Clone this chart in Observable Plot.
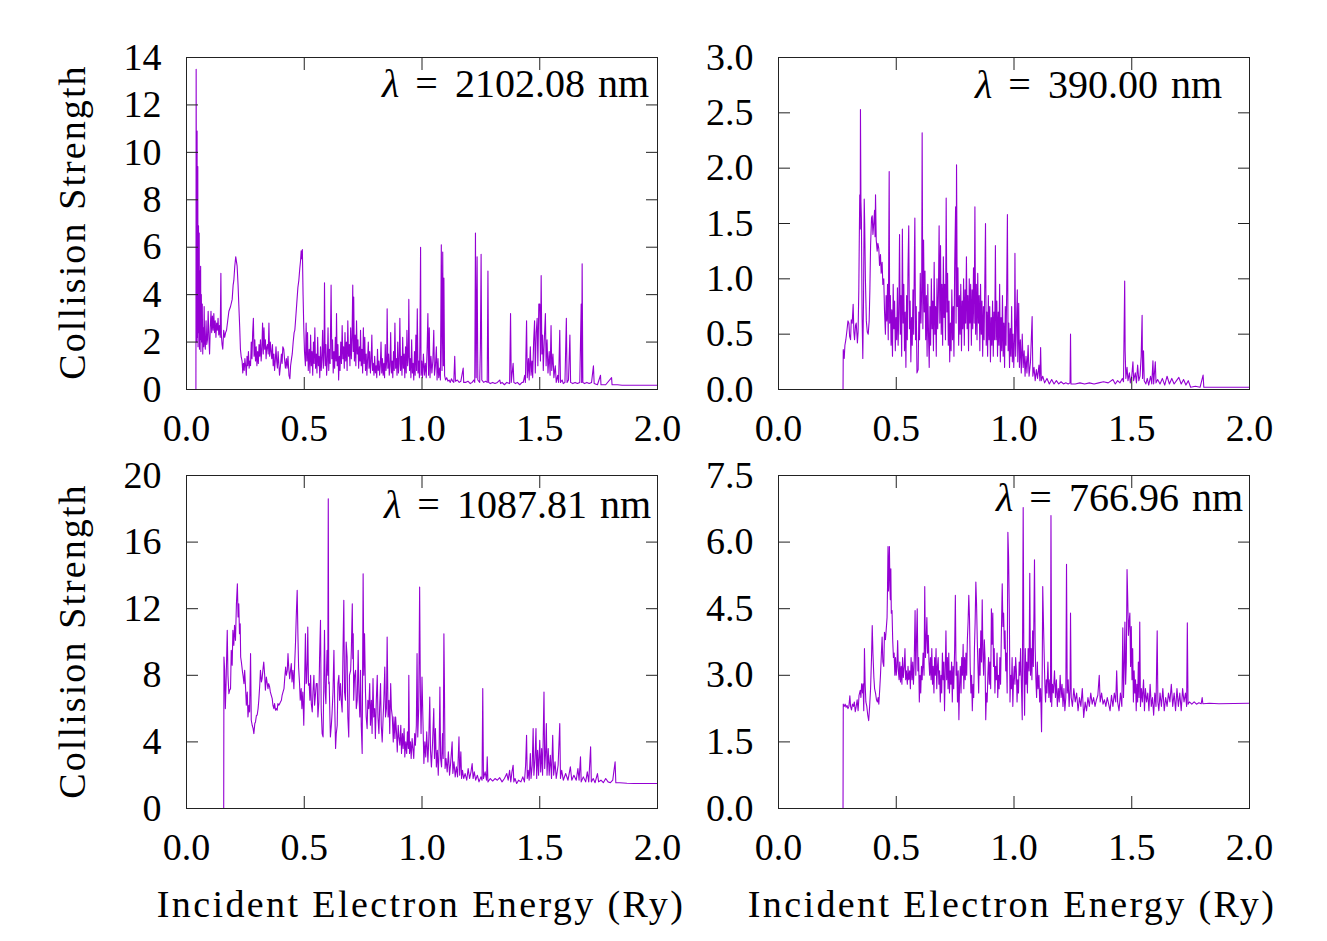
<!DOCTYPE html>
<html><head><meta charset="utf-8">
<script src="https://cdn.jsdelivr.net/npm/d3@7"></script>
<script src="https://cdn.jsdelivr.net/npm/@observablehq/plot@0.6"></script>
<style>
body{margin:0;background:#fff;}
#fig{position:relative;width:1327px;height:941px;background:#fff;overflow:hidden;font-family:"Liberation Serif",serif;color:#000;}
.panel{position:absolute;}
.lab{position:absolute;font-size:40px;line-height:38px;white-space:nowrap;}
.lab .eq{margin:0 17px 0 16px;}
.lab .u{margin-left:13px;}
.ylab{position:absolute;font-size:38px;line-height:38px;white-space:nowrap;letter-spacing:2.1px;transform:translate(-50%,-50%) rotate(-90deg);}
.xlab{position:absolute;font-size:38px;line-height:38px;white-space:nowrap;letter-spacing:2.4px;transform:translateX(-50%);}
</style>
</head><body><div id="fig"></div>
<script>
// ---- data: [energy (Ry), collision strength] ----
const xTicks = [0, 0.5, 1.0, 1.5, 2.0];
const yTicksTL = [0,2,4,6,8,10,12,14];
const yTicksTR = [0,0.5,1.0,1.5,2.0,2.5,3.0];
const yTicksBL = [0,4,8,12,16,20];
const yTicksBR = [0,1.5,3.0,4.5,6.0,7.5];
const labels = ["2102.08", "390.00", "1087.81", "766.96"];

const dataTL = [[0,0],[0.040,0],[0.041,13.5],[0.043,2.0],[0.045,10.9],[0.046,2.2],[0.048,9.4],[0.049,1.8],[0.051,6.9],[0.052,2.4],[0.054,6.6],[0.055,1.7],[0.057,5.0],[0.058,2.1],[0.060,5.2],[0.061,1.6],[0.063,4.0],[0.065,2.0],[0.067,3.6],[0.069,1.5],[0.071,2.6],[0.073,1.8],[0.075,3.5],[0.077,2.0],[0.080,1.7],[0.083,2.9],[0.086,1.9],[0.089,2.1],[0.092,3.3],[0.095,2.2],[0.098,1.5],[0.101,2.6],[0.104,3.3],[0.107,2.4],[0.110,3.1],[0.113,2.5],[0.116,3.2],[0.119,2.4],[0.122,2.9],[0.125,2.2],[0.128,2.8],[0.131,2.5],[0.134,3.0],[0.137,2.3],[0.140,2.7],[0.143,2.2],[0.146,4.9],[0.148,2.3],[0.151,1.9],[0.154,1.7],[0.158,2.5],[0.162,2.2],[0.166,2.4],[0.170,2.5],[0.175,2.9],[0.180,3.3],[0.187,3.5],[0.194,3.8],[0.198,4.4],[0.201,4.6],[0.205,5.2],[0.209,5.6],[0.212,5.4],[0.215,5.2],[0.219,4.4],[0.222,3.6],[0.226,2.6],[0.229,1.7],[0.232,1.4],[0.236,1.2],[0.239,0.7],[0.242,1.1],[0.245,0.8],[0.248,1.3],[0.251,1.0],[0.254,0.6],[0.257,1.4],[0.260,1.0],[0.263,1.6],[0.266,0.9],[0.269,1.2],[0.272,1.0],[0.275,2.0],[0.278,1.3],[0.281,2.4],[0.284,3.0],[0.287,1.4],[0.290,2.1],[0.293,1.2],[0.296,1.8],[0.299,1.0],[0.302,1.6],[0.305,1.1],[0.308,1.9],[0.311,1.4],[0.314,2.1],[0.317,1.2],[0.320,1.7],[0.323,2.8],[0.326,1.5],[0.329,2.6],[0.332,1.7],[0.335,2.1],[0.338,1.3],[0.341,1.8],[0.344,1.9],[0.347,1.5],[0.350,2.8],[0.353,1.4],[0.356,2.0],[0.359,1.6],[0.362,1.3],[0.365,1.9],[0.368,1.0],[0.371,1.5],[0.374,0.8],[0.377,1.2],[0.380,1.8],[0.383,1.2],[0.386,0.9],[0.389,1.6],[0.392,1.1],[0.395,0.6],[0.399,1.0],[0.403,1.5],[0.406,1.1],[0.409,1.8],[0.413,1.7],[0.417,1.2],[0.420,0.9],[0.424,1.3],[0.427,0.9],[0.431,1.4],[0.435,0.6],[0.439,0.45],[0.442,1.0],[0.446,1.3],[0.449,1.5],[0.453,2.0],[0.457,2.4],[0.460,2.5],[0.463,2.9],[0.468,3.6],[0.473,4.3],[0.477,4.6],[0.481,5.1],[0.484,5.4],[0.487,5.85],[0.490,5.5],[0.492,5.9],[0.495,4.0],[0.498,2.6],[0.501,1.6],[0.505,1.0],[0.508,2.8],[0.511,1.2],[0.514,2.4],[0.517,0.8],[0.521,1.7],[0.524,0.7],[0.527,2.3],[0.530,1.0],[0.533,1.6],[0.536,0.6],[0.539,2.0],[0.542,1.1],[0.545,2.6],[0.548,0.9],[0.551,1.5],[0.554,0.7],[0.557,2.2],[0.560,1.0],[0.563,1.4],[0.566,0.5],[0.569,1.8],[0.572,0.8],[0.575,1.3],[0.578,2.5],[0.581,0.9],[0.584,1.6],[0.586,4.5],[0.589,1.0],[0.592,1.9],[0.595,0.6],[0.598,1.2],[0.601,2.6],[0.604,0.8],[0.607,1.7],[0.610,1.1],[0.614,4.4],[0.617,1.3],[0.620,2.1],[0.623,0.7],[0.626,1.6],[0.629,0.9],[0.632,2.2],[0.635,1.2],[0.637,3.2],[0.640,1.0],[0.643,1.9],[0.646,0.4],[0.649,1.4],[0.652,0.8],[0.655,2.0],[0.658,1.1],[0.661,2.7],[0.664,1.3],[0.667,1.8],[0.670,0.9],[0.673,2.4],[0.676,1.2],[0.679,2.0],[0.682,0.8],[0.685,2.9],[0.688,1.4],[0.691,1.9],[0.694,1.0],[0.697,2.6],[0.700,1.3],[0.703,2.2],[0.706,4.4],[0.708,1.6],[0.710,3.9],[0.713,1.2],[0.716,2.3],[0.719,1.0],[0.722,2.9],[0.725,1.5],[0.728,2.1],[0.731,0.9],[0.734,1.8],[0.737,1.2],[0.739,2.5],[0.742,1.0],[0.745,1.7],[0.748,0.7],[0.751,2.6],[0.754,1.1],[0.757,2.2],[0.760,0.8],[0.763,1.5],[0.766,0.6],[0.769,1.3],[0.772,2.0],[0.775,0.9],[0.778,1.6],[0.781,0.7],[0.784,1.2],[0.787,2.3],[0.790,0.8],[0.793,1.1],[0.796,0.6],[0.799,1.4],[0.802,0.7],[0.805,1.0],[0.808,0.5],[0.811,1.7],[0.814,0.8],[0.817,1.2],[0.820,0.6],[0.823,1.0],[0.826,2.0],[0.829,0.7],[0.832,1.3],[0.835,0.6],[0.838,1.1],[0.841,0.5],[0.844,1.9],[0.847,0.8],[0.850,1.2],[0.852,3.4],[0.855,0.9],[0.858,1.5],[0.861,0.6],[0.864,1.0],[0.867,2.4],[0.870,0.7],[0.873,1.2],[0.876,0.5],[0.879,1.6],[0.882,0.8],[0.885,2.8],[0.888,0.9],[0.891,1.3],[0.894,0.6],[0.897,2.0],[0.900,0.7],[0.903,1.1],[0.906,3.0],[0.909,0.8],[0.912,1.4],[0.915,0.6],[0.918,2.2],[0.921,0.9],[0.924,1.5],[0.927,0.5],[0.930,1.8],[0.933,0.7],[0.936,2.5],[0.939,1.0],[0.942,1.4],[0.944,3.8],[0.947,0.8],[0.950,1.3],[0.953,0.5],[0.956,2.1],[0.959,0.7],[0.962,1.1],[0.965,0.4],[0.968,1.6],[0.971,0.6],[0.974,2.3],[0.977,0.8],[0.980,3.4],[0.983,0.7],[0.986,1.2],[0.989,0.5],[0.991,1.9],[0.994,6.0],[0.996,0.6],[0.999,1.2],[1.002,0.5],[1.006,1.5],[1.010,0.6],[1.014,1.1],[1.018,0.5],[1.022,1.8],[1.025,3.2],[1.028,0.6],[1.031,2.6],[1.034,0.5],[1.038,1.4],[1.042,0.7],[1.046,1.2],[1.050,2.5],[1.053,0.6],[1.057,1.0],[1.061,1.8],[1.064,0.4],[1.068,1.3],[1.071,0.5],[1.075,0.9],[1.078,0.4],[1.080,3.0],[1.082,6.1],[1.085,0.8],[1.088,5.8],[1.091,1.0],[1.093,4.7],[1.096,0.6],[1.100,0.4],[1.105,0.5],[1.110,0.35],[1.115,0.4],[1.120,0.3],[1.125,0.45],[1.130,0.35],[1.135,0.3],[1.139,1.4],[1.142,0.35],[1.150,0.4],[1.158,0.3],[1.165,0.35],[1.175,0.9],[1.177,0.3],[1.185,0.3],[1.195,0.35],[1.205,0.25],[1.213,0.3],[1.220,0.4],[1.224,0.3],[1.227,6.6],[1.230,0.5],[1.234,5.6],[1.237,0.4],[1.245,0.3],[1.248,1.8],[1.251,5.7],[1.254,0.4],[1.262,0.3],[1.270,0.35],[1.277,0.3],[1.280,5.0],[1.283,0.3],[1.290,0.25],[1.300,0.3],[1.310,0.25],[1.320,0.3],[1.330,0.4],[1.334,0.25],[1.340,0.3],[1.350,0.2],[1.360,0.3],[1.372,0.25],[1.376,3.2],[1.379,0.3],[1.387,1.1],[1.390,0.3],[1.397,0.25],[1.405,0.3],[1.415,0.2],[1.425,0.3],[1.430,0.3],[1.436,0.6],[1.439,0.3],[1.444,2.9],[1.447,0.5],[1.452,1.3],[1.455,0.4],[1.460,1.8],[1.463,0.6],[1.467,1.2],[1.470,0.5],[1.474,2.0],[1.478,2.9],[1.481,0.7],[1.485,2.4],[1.489,3.0],[1.492,1.0],[1.496,3.6],[1.500,3.6],[1.503,1.2],[1.506,4.8],[1.509,1.5],[1.512,2.3],[1.515,0.8],[1.519,2.0],[1.524,3.2],[1.527,1.0],[1.531,2.1],[1.535,0.7],[1.540,1.6],[1.544,0.6],[1.548,2.7],[1.551,0.8],[1.556,1.5],[1.560,0.5],[1.566,1.0],[1.570,0.3],[1.576,0.6],[1.580,0.3],[1.585,2.5],[1.588,0.3],[1.595,0.4],[1.600,0.25],[1.607,0.3],[1.613,3.0],[1.616,0.3],[1.622,0.4],[1.628,2.3],[1.631,0.3],[1.640,0.25],[1.650,0.3],[1.660,0.25],[1.670,0.3],[1.676,3.6],[1.678,0.3],[1.680,5.3],[1.683,0.3],[1.690,0.25],[1.700,0.3],[1.710,0.25],[1.720,0.3],[1.728,1.0],[1.731,0.25],[1.745,0.2],[1.758,0.6],[1.760,0.2],[1.780,0.2],[1.805,0.5],[1.807,0.2],[1.830,0.2],[1.850,0.18],[2.000,0.18]];

const dataTR = [[0,0],[0.274,0],[0.275,0.36],[0.279,0.28],[0.282,0.40],[0.286,0.45],[0.291,0.54],[0.295,0.62],[0.299,0.60],[0.302,0.48],[0.306,0.45],[0.309,0.63],[0.313,0.60],[0.317,0.77],[0.320,0.52],[0.323,0.45],[0.327,0.58],[0.330,0.60],[0.333,0.50],[0.335,0.42],[0.338,0.52],[0.341,0.90],[0.343,1.35],[0.345,1.76],[0.347,1.45],[0.348,2.53],[0.350,1.70],[0.352,1.55],[0.355,0.65],[0.358,0.28],[0.361,0.80],[0.364,1.72],[0.366,1.50],[0.369,1.00],[0.373,0.62],[0.377,0.52],[0.381,0.50],[0.385,0.62],[0.388,0.90],[0.391,1.30],[0.395,1.55],[0.398,1.57],[0.401,1.40],[0.405,1.52],[0.408,1.62],[0.410,1.38],[0.412,1.76],[0.415,1.35],[0.419,1.25],[0.422,1.32],[0.426,1.27],[0.429,1.12],[0.433,1.22],[0.436,1.05],[0.440,1.15],[0.443,0.95],[0.447,1.00],[0.450,0.72],[0.454,0.50],[0.457,0.85],[0.460,0.62],[0.463,0.95],[0.466,0.45],[0.470,1.97],[0.472,0.60],[0.475,0.85],[0.478,0.40],[0.481,0.72],[0.484,0.30],[0.487,0.95],[0.490,0.55],[0.493,0.80],[0.496,0.35],[0.499,0.65],[0.502,0.45],[0.505,0.92],[0.508,0.40],[0.511,0.70],[0.514,1.40],[0.517,0.50],[0.520,0.85],[0.523,0.30],[0.526,1.45],[0.529,0.60],[0.532,0.95],[0.535,0.35],[0.538,0.70],[0.541,0.20],[0.544,0.85],[0.547,0.45],[0.550,1.10],[0.553,1.48],[0.556,0.55],[0.559,0.80],[0.562,0.25],[0.565,0.65],[0.568,0.40],[0.571,0.90],[0.574,0.50],[0.577,1.20],[0.579,1.55],[0.582,0.45],[0.585,0.75],[0.588,0.15],[0.593,0.18],[0.596,0.70],[0.599,0.45],[0.602,1.05],[0.605,0.60],[0.608,0.90],[0.610,2.32],[0.613,0.55],[0.616,1.35],[0.619,0.70],[0.622,1.07],[0.625,0.45],[0.628,0.85],[0.631,0.30],[0.634,0.95],[0.637,0.50],[0.640,0.20],[0.643,0.75],[0.646,0.40],[0.649,1.00],[0.652,0.55],[0.655,0.80],[0.658,0.35],[0.661,1.15],[0.664,0.50],[0.667,0.75],[0.670,0.30],[0.673,1.00],[0.676,0.55],[0.679,0.85],[0.682,1.48],[0.685,0.60],[0.688,1.30],[0.691,0.50],[0.694,0.95],[0.697,0.40],[0.700,1.20],[0.703,0.65],[0.706,0.95],[0.709,0.45],[0.712,1.73],[0.715,0.70],[0.718,1.05],[0.721,0.40],[0.724,0.80],[0.727,0.25],[0.730,0.60],[0.733,0.35],[0.736,0.90],[0.739,0.45],[0.742,0.75],[0.745,0.30],[0.748,1.10],[0.752,1.65],[0.754,0.60],[0.756,2.03],[0.759,0.75],[0.762,1.10],[0.765,0.40],[0.768,0.85],[0.771,0.50],[0.774,0.95],[0.777,0.35],[0.780,0.80],[0.783,0.55],[0.786,1.00],[0.789,0.40],[0.792,0.90],[0.795,0.60],[0.798,1.20],[0.801,0.55],[0.804,0.85],[0.807,0.35],[0.810,1.00],[0.813,0.60],[0.816,0.95],[0.819,0.40],[0.822,0.90],[0.825,0.55],[0.828,1.10],[0.831,0.60],[0.834,1.65],[0.837,0.50],[0.840,0.95],[0.843,0.45],[0.846,1.05],[0.849,0.60],[0.852,0.85],[0.855,0.35],[0.858,0.95],[0.861,0.50],[0.864,0.80],[0.867,0.30],[0.870,0.75],[0.873,0.45],[0.876,0.95],[0.879,1.50],[0.882,0.40],[0.885,0.70],[0.888,0.30],[0.891,0.85],[0.894,0.45],[0.897,0.75],[0.900,0.25],[0.903,0.65],[0.906,0.40],[0.909,0.80],[0.912,0.30],[0.915,0.70],[0.918,0.45],[0.921,1.30],[0.924,0.45],[0.927,0.80],[0.930,0.30],[0.933,0.70],[0.936,0.40],[0.939,0.95],[0.942,0.25],[0.945,0.65],[0.948,0.35],[0.951,0.85],[0.954,0.30],[0.957,0.60],[0.960,0.20],[0.963,0.75],[0.966,0.40],[0.969,0.90],[0.972,1.58],[0.975,0.35],[0.978,0.60],[0.981,0.20],[0.984,0.55],[0.987,0.30],[0.990,0.75],[0.993,0.25],[0.996,0.50],[0.999,0.20],[1.002,0.45],[1.004,1.23],[1.007,0.30],[1.010,0.55],[1.014,0.90],[1.016,0.25],[1.020,0.78],[1.023,0.20],[1.027,0.45],[1.031,0.15],[1.035,0.50],[1.039,0.20],[1.043,0.35],[1.047,0.12],[1.051,0.30],[1.055,0.15],[1.060,0.40],[1.064,0.12],[1.070,0.25],[1.077,0.66],[1.080,0.12],[1.085,0.20],[1.090,0.08],[1.095,0.18],[1.100,0.10],[1.106,0.22],[1.110,0.08],[1.113,0.38],[1.116,0.08],[1.122,0.12],[1.130,0.06],[1.140,0.10],[1.150,0.05],[1.160,0.09],[1.170,0.05],[1.180,0.08],[1.190,0.05],[1.200,0.07],[1.210,0.05],[1.220,0.06],[1.230,0.05],[1.238,0.06],[1.240,0.50],[1.242,0.05],[1.260,0.05],[1.280,0.06],[1.300,0.05],[1.320,0.06],[1.340,0.05],[1.360,0.06],[1.380,0.07],[1.400,0.06],[1.420,0.09],[1.430,0.05],[1.440,0.08],[1.450,0.06],[1.460,0.10],[1.465,0.07],[1.470,0.98],[1.472,0.35],[1.475,0.10],[1.480,0.20],[1.484,0.08],[1.490,0.15],[1.494,0.06],[1.500,0.12],[1.505,0.25],[1.508,0.08],[1.515,0.15],[1.520,0.06],[1.525,0.22],[1.530,0.08],[1.535,0.12],[1.540,0.30],[1.544,0.67],[1.546,0.10],[1.550,0.35],[1.553,0.08],[1.560,0.05],[1.566,0.10],[1.572,0.04],[1.580,0.12],[1.585,0.05],[1.590,0.26],[1.593,0.05],[1.600,0.25],[1.603,0.06],[1.610,0.09],[1.620,0.05],[1.630,0.10],[1.640,0.04],[1.650,0.12],[1.660,0.05],[1.670,0.10],[1.680,0.05],[1.690,0.08],[1.700,0.11],[1.710,0.05],[1.720,0.09],[1.730,0.04],[1.740,0.08],[1.750,0.02],[1.770,0.03],[1.790,0.02],[1.803,0.13],[1.806,0.02],[1.830,0.02],[1.860,0.02],[2.000,0.02]];

const dataBL = [[0,0],[0.158,0],[0.159,9.1],[0.162,8.3],[0.165,6.0],[0.168,7.5],[0.173,10.7],[0.176,8.0],[0.180,6.9],[0.183,7.1],[0.187,7.2],[0.190,9.5],[0.194,8.6],[0.197,10.7],[0.201,9.8],[0.204,11.0],[0.208,10.1],[0.212,12.3],[0.216,13.5],[0.219,11.5],[0.222,12.3],[0.225,10.5],[0.228,11.1],[0.230,9.1],[0.233,8.8],[0.237,8.3],[0.240,8.0],[0.244,7.5],[0.247,8.3],[0.251,7.2],[0.254,6.2],[0.258,7.0],[0.261,5.5],[0.265,6.2],[0.268,5.8],[0.272,9.3],[0.275,5.3],[0.279,5.0],[0.283,4.8],[0.286,4.5],[0.290,5.1],[0.293,5.2],[0.297,5.6],[0.300,5.6],[0.304,6.0],[0.307,6.5],[0.311,7.4],[0.314,8.3],[0.318,7.6],[0.321,7.8],[0.325,8.4],[0.328,8.8],[0.332,8.0],[0.335,7.1],[0.339,7.9],[0.342,7.6],[0.346,7.2],[0.349,7.5],[0.353,7.3],[0.356,7.0],[0.360,6.8],[0.364,6.6],[0.367,6.2],[0.371,6.0],[0.374,6.3],[0.378,5.9],[0.381,6.0],[0.385,5.9],[0.388,6.3],[0.392,6.2],[0.396,6.3],[0.399,6.4],[0.403,6.5],[0.406,6.8],[0.410,7.0],[0.414,7.2],[0.417,7.8],[0.421,8.5],[0.424,8.0],[0.428,8.3],[0.431,9.3],[0.434,8.5],[0.438,7.8],[0.441,8.2],[0.445,8.7],[0.448,7.6],[0.452,8.3],[0.456,7.2],[0.460,8.9],[0.463,10.0],[0.466,11.5],[0.470,13.1],[0.473,10.5],[0.476,8.5],[0.480,7.5],[0.483,6.5],[0.487,7.2],[0.490,6.0],[0.494,7.0],[0.498,5.0],[0.502,8.0],[0.505,10.5],[0.508,7.5],[0.510,7.6],[0.513,9.0],[0.515,10.9],[0.518,7.4],[0.521,7.5],[0.524,6.5],[0.527,8.0],[0.530,6.3],[0.534,5.8],[0.537,7.0],[0.541,8.0],[0.544,6.2],[0.548,6.9],[0.551,7.5],[0.555,7.5],[0.558,5.5],[0.562,6.4],[0.565,9.0],[0.569,11.3],[0.572,6.0],[0.576,4.5],[0.580,4.3],[0.583,7.5],[0.586,10.7],[0.589,7.0],[0.592,6.3],[0.595,8.5],[0.597,9.5],[0.600,8.0],[0.602,18.6],[0.604,7.5],[0.606,7.6],[0.609,5.5],[0.611,4.3],[0.615,5.0],[0.618,5.7],[0.622,7.0],[0.626,9.5],[0.629,6.5],[0.633,3.6],[0.636,4.5],[0.640,5.0],[0.643,7.5],[0.647,8.0],[0.650,6.5],[0.654,7.5],[0.657,6.5],[0.661,5.8],[0.664,9.0],[0.668,12.5],[0.671,7.0],[0.675,6.5],[0.678,10.0],[0.682,9.1],[0.685,5.5],[0.689,4.3],[0.692,8.0],[0.697,8.3],[0.700,9.5],[0.704,12.3],[0.706,9.0],[0.708,10.5],[0.710,6.5],[0.714,8.0],[0.718,8.3],[0.721,6.0],[0.725,6.5],[0.729,9.5],[0.732,7.0],[0.736,5.5],[0.739,8.3],[0.742,5.0],[0.746,3.3],[0.750,14.1],[0.753,8.0],[0.756,10.5],[0.760,7.0],[0.763,5.5],[0.767,4.8],[0.770,6.5],[0.774,6.0],[0.778,7.5],[0.781,5.0],[0.785,6.5],[0.788,4.5],[0.792,7.8],[0.795,5.5],[0.799,6.0],[0.802,4.2],[0.806,6.5],[0.810,8.0],[0.813,5.5],[0.817,4.5],[0.820,6.0],[0.824,7.5],[0.827,5.0],[0.831,4.0],[0.835,5.5],[0.838,6.5],[0.842,8.5],[0.845,5.5],[0.849,6.0],[0.852,10.3],[0.856,5.5],[0.860,6.5],[0.863,4.5],[0.867,7.5],[0.870,6.0],[0.874,5.5],[0.878,4.0],[0.881,5.5],[0.885,4.2],[0.888,5.5],[0.892,4.5],[0.895,3.4],[0.899,5.0],[0.902,4.3],[0.906,3.8],[0.910,5.0],[0.913,3.3],[0.917,4.5],[0.920,3.6],[0.924,4.8],[0.927,3.1],[0.931,4.0],[0.935,3.3],[0.938,4.6],[0.942,3.6],[0.944,8.0],[0.947,3.3],[0.951,4.0],[0.954,3.0],[0.958,4.2],[0.962,3.5],[0.965,3.0],[0.969,4.5],[0.972,3.8],[0.976,5.0],[0.979,9.3],[0.982,4.3],[0.986,6.0],[0.990,13.3],[0.993,7.0],[0.996,4.5],[1.000,7.9],[1.004,5.3],[1.008,2.7],[1.012,4.0],[1.016,3.1],[1.020,4.6],[1.025,2.8],[1.029,4.2],[1.033,6.7],[1.036,3.5],[1.040,2.5],[1.045,4.0],[1.050,6.0],[1.053,3.0],[1.057,4.8],[1.061,2.5],[1.065,3.5],[1.069,2.0],[1.073,3.8],[1.076,7.3],[1.079,3.0],[1.083,2.5],[1.087,4.5],[1.090,3.0],[1.093,10.5],[1.095,7.8],[1.098,2.4],[1.102,3.0],[1.107,2.2],[1.112,3.4],[1.117,2.0],[1.122,2.8],[1.128,4.0],[1.131,2.1],[1.136,2.8],[1.141,1.9],[1.146,2.5],[1.151,1.9],[1.157,4.3],[1.160,2.0],[1.165,3.4],[1.168,1.8],[1.172,2.3],[1.177,1.8],[1.183,2.1],[1.190,1.7],[1.196,2.4],[1.202,1.8],[1.208,2.2],[1.213,2.7],[1.217,1.8],[1.222,2.2],[1.228,1.7],[1.235,2.0],[1.242,1.6],[1.250,1.9],[1.255,1.7],[1.258,7.2],[1.261,1.8],[1.268,2.2],[1.274,1.7],[1.277,3.1],[1.280,1.6],[1.290,1.8],[1.300,1.65],[1.310,1.8],[1.320,1.7],[1.330,1.85],[1.340,1.6],[1.350,1.8],[1.360,2.1],[1.366,1.7],[1.372,2.3],[1.377,1.6],[1.382,2.2],[1.387,2.6],[1.390,1.6],[1.395,1.8],[1.402,1.5],[1.410,1.7],[1.420,1.6],[1.428,1.9],[1.435,1.6],[1.440,2.6],[1.444,4.4],[1.447,1.8],[1.451,2.3],[1.455,1.7],[1.460,3.3],[1.463,1.8],[1.468,2.6],[1.472,4.8],[1.475,2.0],[1.480,3.0],[1.484,4.8],[1.487,1.8],[1.491,3.5],[1.495,2.0],[1.500,4.1],[1.504,2.2],[1.508,3.6],[1.512,2.0],[1.518,7.0],[1.521,2.4],[1.525,3.4],[1.528,5.1],[1.531,2.0],[1.536,3.6],[1.540,2.0],[1.545,3.2],[1.550,1.8],[1.555,4.4],[1.559,2.0],[1.565,2.8],[1.570,1.8],[1.578,2.6],[1.585,5.1],[1.588,1.8],[1.593,2.3],[1.600,1.7],[1.610,2.1],[1.620,1.7],[1.630,2.5],[1.636,1.7],[1.645,2.0],[1.655,1.7],[1.662,2.4],[1.667,1.7],[1.673,3.1],[1.676,1.6],[1.685,1.9],[1.695,1.6],[1.702,2.2],[1.708,1.6],[1.716,3.7],[1.719,1.6],[1.727,1.8],[1.735,1.55],[1.745,2.1],[1.750,1.6],[1.760,1.7],[1.770,1.55],[1.780,1.8],[1.790,1.6],[1.800,1.55],[1.810,1.7],[1.820,2.8],[1.823,1.55],[1.840,1.55],[1.870,1.52],[1.900,1.5],[2.000,1.5]];

const dataBR = [[0,0],[0.274,0],[0.275,2.35],[0.279,2.30],[0.283,2.35],[0.287,2.28],[0.291,2.32],[0.295,2.25],[0.299,2.30],[0.303,2.54],[0.306,2.30],[0.310,2.22],[0.314,2.35],[0.318,2.30],[0.322,2.40],[0.326,2.18],[0.330,2.30],[0.334,2.45],[0.338,2.20],[0.342,2.55],[0.347,2.66],[0.350,2.50],[0.353,2.81],[0.357,2.60],[0.359,2.81],[0.362,2.20],[0.365,3.60],[0.368,2.80],[0.371,2.40],[0.375,2.30],[0.379,2.10],[0.383,1.98],[0.387,2.30],[0.391,2.70],[0.395,3.40],[0.398,4.12],[0.401,3.50],[0.405,2.95],[0.408,2.70],[0.412,2.60],[0.416,2.45],[0.420,2.40],[0.423,2.50],[0.426,2.35],[0.430,2.70],[0.433,3.00],[0.437,3.50],[0.440,3.86],[0.443,3.30],[0.447,3.20],[0.450,3.97],[0.454,3.80],[0.457,4.00],[0.461,4.30],[0.463,5.00],[0.465,5.90],[0.467,4.90],[0.469,5.40],[0.471,5.90],[0.473,5.00],[0.475,4.70],[0.477,5.40],[0.479,4.40],[0.482,4.46],[0.485,3.78],[0.488,3.40],[0.491,3.50],[0.494,3.00],[0.497,3.40],[0.500,3.00],[0.503,3.20],[0.506,3.78],[0.509,3.10],[0.512,2.90],[0.515,3.30],[0.518,2.85],[0.521,3.20],[0.524,2.80],[0.527,3.40],[0.530,2.95],[0.534,3.20],[0.537,3.60],[0.540,2.90],[0.543,3.10],[0.547,2.80],[0.550,3.20],[0.553,2.90],[0.557,3.10],[0.560,2.70],[0.563,3.40],[0.567,2.90],[0.570,3.30],[0.573,2.80],[0.576,3.20],[0.580,4.46],[0.583,3.00],[0.586,3.80],[0.589,4.50],[0.592,3.10],[0.595,3.40],[0.598,2.40],[0.601,3.00],[0.604,2.60],[0.607,3.20],[0.610,2.90],[0.614,3.50],[0.618,3.00],[0.621,5.00],[0.624,3.40],[0.627,3.80],[0.630,4.30],[0.633,3.50],[0.636,3.90],[0.639,3.30],[0.642,3.00],[0.645,3.40],[0.648,2.90],[0.651,3.60],[0.654,2.80],[0.657,3.20],[0.660,2.60],[0.663,3.40],[0.666,3.00],[0.669,3.60],[0.672,2.70],[0.675,3.20],[0.678,3.40],[0.681,2.80],[0.684,3.10],[0.687,2.40],[0.690,3.00],[0.693,2.60],[0.696,3.50],[0.699,2.90],[0.702,3.30],[0.705,2.20],[0.708,3.10],[0.711,4.00],[0.714,2.90],[0.717,3.40],[0.720,2.70],[0.723,3.50],[0.726,2.60],[0.729,3.10],[0.732,2.80],[0.735,3.30],[0.738,2.40],[0.741,3.20],[0.744,2.70],[0.748,3.60],[0.751,4.80],[0.754,3.00],[0.757,3.30],[0.760,2.40],[0.763,3.10],[0.766,2.00],[0.769,2.80],[0.772,3.20],[0.775,2.60],[0.778,3.40],[0.781,3.00],[0.784,3.70],[0.787,2.70],[0.790,3.40],[0.793,2.90],[0.796,3.50],[0.799,3.00],[0.802,3.80],[0.805,4.20],[0.808,4.80],[0.811,4.30],[0.814,3.20],[0.817,2.60],[0.820,3.00],[0.823,2.20],[0.826,2.80],[0.829,2.50],[0.832,3.60],[0.835,4.20],[0.838,5.10],[0.841,4.60],[0.844,3.80],[0.847,3.20],[0.850,2.60],[0.853,3.60],[0.856,3.00],[0.859,4.00],[0.862,3.30],[0.865,4.70],[0.868,3.50],[0.871,3.00],[0.874,3.80],[0.877,3.40],[0.880,2.00],[0.883,2.60],[0.886,2.40],[0.889,3.00],[0.892,3.40],[0.895,2.80],[0.898,3.30],[0.901,2.70],[0.904,4.50],[0.907,3.70],[0.910,4.40],[0.913,3.20],[0.916,3.60],[0.919,2.60],[0.922,3.20],[0.925,2.90],[0.928,3.50],[0.931,2.50],[0.934,3.00],[0.937,2.70],[0.940,3.40],[0.943,2.80],[0.946,3.80],[0.950,5.06],[0.953,4.10],[0.956,4.40],[0.959,3.60],[0.962,4.00],[0.965,3.10],[0.968,3.50],[0.971,2.60],[0.974,6.22],[0.977,5.66],[0.980,4.50],[0.983,2.40],[0.986,3.00],[0.989,2.70],[0.992,3.40],[0.995,2.30],[0.998,2.90],[1.001,3.20],[1.004,2.80],[1.007,3.40],[1.010,3.10],[1.013,2.40],[1.016,2.90],[1.019,2.60],[1.022,3.30],[1.025,3.00],[1.028,3.60],[1.031,2.90],[1.035,2.00],[1.039,6.78],[1.042,3.20],[1.045,2.10],[1.048,3.60],[1.051,2.80],[1.054,3.30],[1.057,2.60],[1.060,3.60],[1.064,3.10],[1.067,5.30],[1.070,3.00],[1.073,3.60],[1.076,2.90],[1.079,4.00],[1.082,3.20],[1.085,4.50],[1.087,5.60],[1.090,3.60],[1.093,2.90],[1.096,2.50],[1.099,3.30],[1.102,2.70],[1.106,3.00],[1.109,2.40],[1.113,2.70],[1.117,1.73],[1.120,3.20],[1.122,5.00],[1.125,4.20],[1.128,3.50],[1.131,2.80],[1.134,2.40],[1.137,2.90],[1.140,2.60],[1.144,3.30],[1.148,2.50],[1.152,2.90],[1.155,2.40],[1.157,6.60],[1.160,2.30],[1.163,2.80],[1.167,2.60],[1.172,3.10],[1.176,2.50],[1.180,2.90],[1.184,2.30],[1.188,2.70],[1.192,2.40],[1.196,3.00],[1.200,2.50],[1.204,2.80],[1.208,2.30],[1.212,2.70],[1.216,2.20],[1.220,2.50],[1.223,5.50],[1.226,2.60],[1.230,2.90],[1.234,2.30],[1.238,2.70],[1.240,4.40],[1.243,2.50],[1.248,2.30],[1.254,2.70],[1.260,2.40],[1.266,2.60],[1.272,2.20],[1.278,2.50],[1.284,2.30],[1.290,2.70],[1.296,2.05],[1.302,2.40],[1.308,2.20],[1.314,2.50],[1.320,2.30],[1.326,2.60],[1.332,2.35],[1.338,2.50],[1.344,2.30],[1.350,2.45],[1.356,2.55],[1.362,3.00],[1.366,2.40],[1.372,2.60],[1.378,2.35],[1.384,2.45],[1.390,2.30],[1.396,2.50],[1.402,2.35],[1.408,2.20],[1.414,2.55],[1.420,2.30],[1.426,2.60],[1.432,2.40],[1.436,3.10],[1.440,2.40],[1.446,2.20],[1.452,2.60],[1.458,2.30],[1.462,4.07],[1.465,2.50],[1.468,3.20],[1.471,4.20],[1.474,2.80],[1.477,3.30],[1.480,5.38],[1.483,4.70],[1.486,3.90],[1.489,4.20],[1.492,4.40],[1.495,3.20],[1.498,4.10],[1.501,2.90],[1.504,3.60],[1.507,2.40],[1.510,3.10],[1.513,2.60],[1.516,2.90],[1.519,2.20],[1.522,2.80],[1.525,2.40],[1.528,3.30],[1.531,2.50],[1.534,4.20],[1.537,2.30],[1.541,2.70],[1.545,2.40],[1.550,2.90],[1.554,2.20],[1.558,2.70],[1.563,2.40],[1.568,2.60],[1.573,2.20],[1.578,2.80],[1.583,2.30],[1.588,2.50],[1.593,2.10],[1.598,2.60],[1.603,2.30],[1.608,4.00],[1.611,2.40],[1.615,2.20],[1.620,2.60],[1.626,2.30],[1.632,2.70],[1.638,2.20],[1.644,2.50],[1.650,2.30],[1.656,2.60],[1.662,2.40],[1.668,2.80],[1.674,2.30],[1.680,2.60],[1.686,2.20],[1.692,2.70],[1.698,2.30],[1.704,2.60],[1.710,2.20],[1.716,2.70],[1.722,2.40],[1.728,2.60],[1.733,2.30],[1.736,4.18],[1.739,2.35],[1.745,2.40],[1.755,2.35],[1.765,2.40],[1.775,2.35],[1.785,2.38],[1.795,2.36],[1.799,2.50],[1.802,2.36],[1.830,2.37],[1.870,2.36],[2.000,2.37]];

// ---- layout ----
const fig = document.getElementById("fig");
const ML = 110, MR = 40, MT = 15, MB = 60, FW = 471;
const fmt1 = d3.format(".1f");
const fmt0 = d3.format("d");

function panel(data, yDomain, yTicks, yFmt, fx, fy, fh) {
  const blank = () => "";
  const svg = Plot.plot({
    width: ML + FW + MR, height: MT + fh + MB,
    marginLeft: ML, marginRight: MR, marginTop: MT, marginBottom: MB,
    x: {domain: [0, 2]},
    y: {domain: yDomain},
    style: {background: "transparent", fontFamily: "'Liberation Serif', serif", fontSize: "38px", overflow: "visible", color: "#000"},
    marks: [
      Plot.line(data, {x: d => d[0], y: d => d[1], stroke: "#9400d3", strokeWidth: 1.1, clip: true}),
      Plot.axisX({ticks: xTicks, tickFormat: fmt1, tickSize: 0, tickPadding: 25, label: null}),
      Plot.axisX({ticks: xTicks, tickFormat: blank, tickSize: -12, anchor: "bottom", label: null, stroke: "#222"}),
      Plot.axisX({ticks: xTicks, tickFormat: blank, tickSize: -12, anchor: "top", label: null, stroke: "#222"}),
      Plot.axisY({ticks: yTicks, tickFormat: yFmt, tickSize: 0, tickPadding: 25, label: null}),
      Plot.axisY({ticks: yTicks, tickFormat: blank, tickSize: -12, anchor: "left", label: null, stroke: "#222"}),
      Plot.axisY({ticks: yTicks, tickFormat: blank, tickSize: -12, anchor: "right", label: null, stroke: "#222"}),
      Plot.frame({stroke: "#222", strokeWidth: 1})
    ]
  });
  svg.classList.add("panel");
  svg.style.left = (fx - ML) + "px";
  svg.style.top = (fy - MT) + "px";
  fig.appendChild(svg);
}

panel(dataTL, [0, 14], yTicksTL, fmt0, 186, 57, 332);
panel(dataTR, [0, 3], yTicksTR, fmt1, 778, 57, 332);
panel(dataBL, [0, 20], yTicksBL, fmt0, 186, 475, 333);
panel(dataBR, [0, 7.5], yTicksBR, fmt1, 778, 475, 333);

function addLabel(text, right, top) {
  const d = document.createElement("div");
  d.className = "lab";
  d.style.right = (1327 - right) + "px";
  d.style.top = top + "px";
  const i = document.createElement("i");
  i.textContent = "λ";
  const eq = document.createElement("span");
  eq.className = "eq";
  eq.textContent = "=";
  const u = document.createElement("span");
  u.className = "u";
  u.textContent = "nm";
  d.appendChild(i);
  d.appendChild(eq);
  d.appendChild(document.createTextNode(text));
  d.appendChild(u);
  fig.appendChild(d);
}
addLabel(labels[0], 649, 65);
addLabel(labels[1], 1222, 66);
addLabel(labels[2], 651, 486);
addLabel(labels[3], 1243, 479);

function addY(text, cx, cy) {
  const d = document.createElement("div");
  d.className = "ylab";
  d.style.left = cx + "px";
  d.style.top = cy + "px";
  d.textContent = text;
  fig.appendChild(d);
}
addY("Collision Strength", 72, 222);
addY("Collision Strength", 72, 641);

function addX(text, cx, top) {
  const d = document.createElement("div");
  d.className = "xlab";
  d.style.left = cx + "px";
  d.style.top = top + "px";
  d.textContent = text;
  fig.appendChild(d);
}
addX("Incident Electron Energy (Ry)", 421, 885);
addX("Incident Electron Energy (Ry)", 1012, 885);
</script>
</body></html>
